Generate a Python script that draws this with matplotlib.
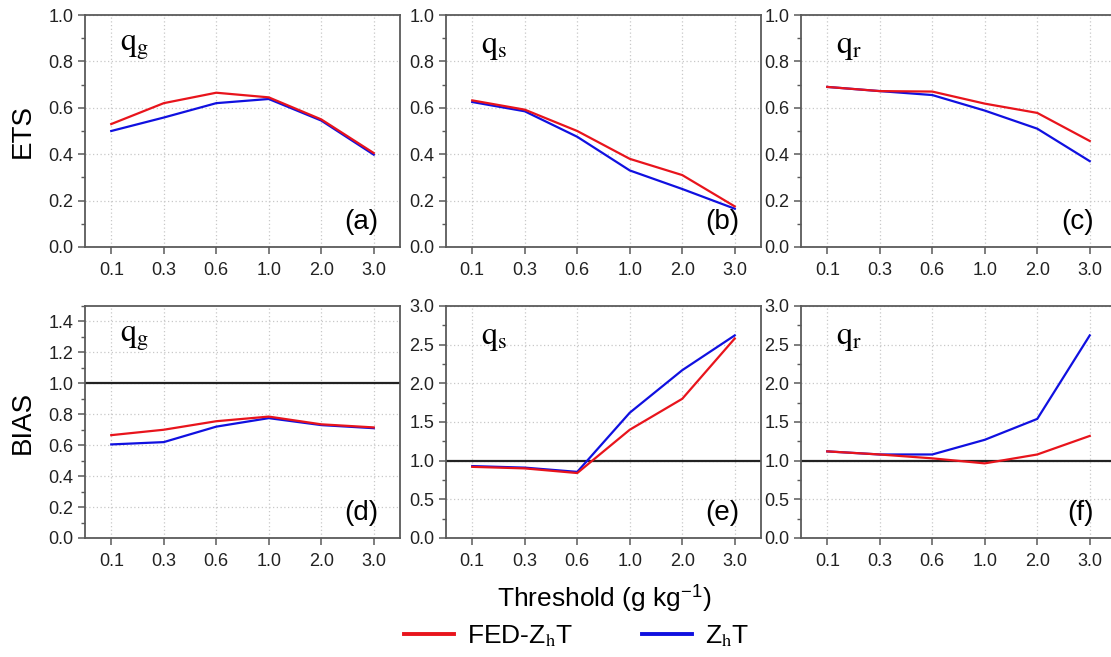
import matplotlib
matplotlib.use("Agg")
import matplotlib.pyplot as plt
from matplotlib.ticker import MultipleLocator, AutoMinorLocator

plt.rcParams['font.family'] = ['Liberation Sans', 'DejaVu Sans']
plt.rcParams['mathtext.fontset'] = 'stix'

thresholds = ['0.1', '0.3', '0.6', '1.0', '2.0', '3.0']

# ETS
ets_qg_fed = [0.53, 0.62, 0.665, 0.645, 0.55, 0.405]
ets_qg_zh = [0.50, 0.558, 0.62, 0.638, 0.545, 0.398]
ets_qs_fed = [0.632, 0.592, 0.50, 0.38, 0.31, 0.175]
ets_qs_zh = [0.625, 0.585, 0.475, 0.33, 0.25, 0.165]
ets_qr_fed = [0.69, 0.672, 0.67, 0.618, 0.578, 0.457]
ets_qr_zh = [0.69, 0.672, 0.655, 0.588, 0.51, 0.37]

# BIAS
bias_qg_fed = [0.665, 0.70, 0.755, 0.785, 0.735, 0.715]
bias_qg_zh = [0.605, 0.62, 0.72, 0.775, 0.73, 0.71]
bias_qs_fed = [0.92, 0.90, 0.84, 1.40, 1.80, 2.58]
bias_qs_zh = [0.93, 0.91, 0.855, 1.62, 2.17, 2.62]
bias_qr_fed = [1.12, 1.08, 1.03, 0.965, 1.08, 1.32]
bias_qr_zh = [1.12, 1.08, 1.08, 1.27, 1.54, 2.62]

species = [r'$\mathrm{q_g}$', r'$\mathrm{q_s}$', r'$\mathrm{q_r}$']
letters = ['(a)', '(b)', '(c)', '(d)', '(e)', '(f)']

W, H = 1111, 657
fig = plt.figure(figsize=(W / 100, H / 100), dpi=100)

lefts = [85, 446, 801]
width = 315
rows = [(15, 247), (306, 538)]

panels = [
    (ets_qg_fed, ets_qg_zh), (ets_qs_fed, ets_qs_zh), (ets_qr_fed, ets_qr_zh),
    (bias_qg_fed, bias_qg_zh), (bias_qs_fed, bias_qs_zh), (bias_qr_fed, bias_qr_zh),
]
ylims = [(1.0, 0.2), (1.0, 0.2), (1.0, 0.2), (1.5, 0.2), (3.0, 0.5), (3.0, 0.5)]

x = list(range(len(thresholds)))
spine_col = '#5a5a5a'

for i, (fed, zh) in enumerate(panels):
    r, c = divmod(i, 3)
    top, bot = rows[r]
    ax = fig.add_axes([lefts[c] / W, 1 - bot / H, width / W, (bot - top) / H])
    ax.plot(x, zh, color='#1010e0', lw=1.6, zorder=3, label='Z$_\\mathrm{h}$T')
    ax.plot(x, fed, color='#e8141c', lw=1.6, zorder=4, label='FED-Z$_\\mathrm{h}$T')
    if r == 1:
        ax.axhline(1.0, color='#222222', lw=1.6, zorder=2)
    ymax, step = ylims[i]
    ax.set_ylim(0, ymax)
    ax.set_xlim(-0.5, 5.5)
    ax.yaxis.set_major_locator(MultipleLocator(step))
    ax.yaxis.set_minor_locator(AutoMinorLocator(2))
    ax.set_xticks(x)
    ax.set_xticklabels(thresholds)
    ax.grid(True, which='major', color='#c8c8c8', ls=(0, (1, 2)), lw=0.9)
    for s in ax.spines.values():
        s.set_color(spine_col)
        s.set_linewidth(1.3)
    ax.tick_params(axis='both', which='major', direction='out', length=5,
                   width=1.1, color=spine_col, labelsize=13, labelcolor='#222222')
    ax.tick_params(axis='y', which='minor', direction='out', length=3,
                   width=1.0, color=spine_col)
    ax.tick_params(axis='x', pad=6)
    if i == 3:
        ax.set_yticks([0, 0.2, 0.4, 0.6, 0.8, 1.0, 1.2, 1.4])
    ax.yaxis.set_major_formatter(matplotlib.ticker.FormatStrFormatter('%.1f'))
    ax.text(0.11, 0.86, species[c], transform=ax.transAxes, fontsize=23,
            ha='left', va='center')
    ax.text(0.93, 0.05, letters[i], transform=ax.transAxes, fontsize=20,
            ha='right', va='bottom')
    if c == 0:
        ax.set_ylabel('ETS' if r == 0 else 'BIAS', fontsize=20, labelpad=9)
    if i == 0:
        handles, labels = ax.get_legend_handles_labels()
        handles, labels = handles[::-1], labels[::-1]

fig.text(605 / W, 1 - 598 / H, 'Threshold (g kg$^{\\mathregular{-1}}$)',
         fontsize=19, ha='center', va='center')

leg = fig.legend(handles, labels, loc='center', bbox_to_anchor=(577 / W, 1 - 636 / H),
                 ncol=2, frameon=False, fontsize=19, handlelength=1.9,
                 columnspacing=2.6, handletextpad=0.5)
for line in leg.get_lines():
    line.set_linewidth(2.8)

fig.savefig('out.png', dpi=100)
